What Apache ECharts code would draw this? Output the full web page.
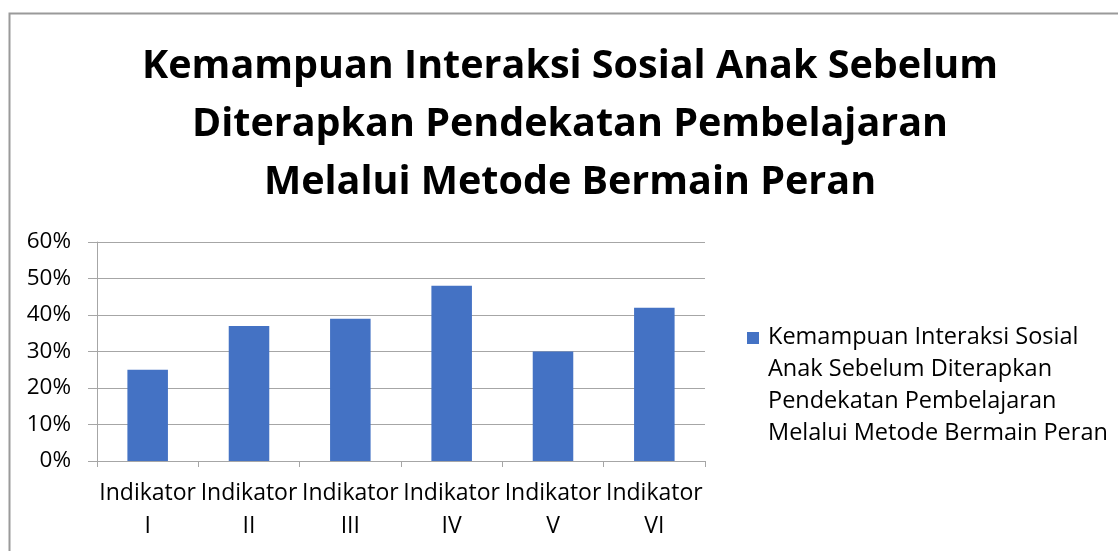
<!DOCTYPE html>
<html>
<head>
<meta charset="utf-8">
<script src="https://cdn.jsdelivr.net/npm/echarts@6/dist/echarts.min.js"></script>
<style>
html,body{margin:0;padding:0;background:#fff;}
#c{width:1118px;height:551px;}
</style>
</head>
<body>
<div id="c"></div>
<script>
const titleText = "Kemampuan Interaksi Sosial Anak Sebelum\nDiterapkan Pendekatan Pembelajaran\nMelalui Metode Bermain Peran";
const seriesName = "Kemampuan Interaksi Sosial Anak Sebelum Diterapkan Pendekatan Pembelajaran Melalui Metode Bermain Peran";
const legendLines = ["Kemampuan Interaksi Sosial", "Anak Sebelum Diterapkan", "Pendekatan Pembelajaran", "Melalui Metode Bermain Peran"];
const categories = ["Indikator\nI", "Indikator\nII", "Indikator\nIII", "Indikator\nIV", "Indikator\nV", "Indikator\nVI"];
const values = [25, 37, 39, 48, 30, 42];
const yTicks = [0, 10, 20, 30, 40, 50, 60];

const FONT = "Open Sans";
const chart = echarts.init(document.getElementById('c'), null, {renderer: 'canvas'});
chart.setOption({
  animation: false,
  backgroundColor: '#fff',
  textStyle: {fontFamily: FONT, color: '#000'},
  title: {
    text: titleText,
    left: 570,
    top: 38,
    textAlign: 'center',
    padding: 0,
    textStyle: {fontFamily: FONT, fontWeight: 'bold', fontSize: 39.5, lineHeight: 58, color: '#000'}
  },
  graphic: [{
    type: 'rect', left: 7, top: 11, silent: true,
    shape: {x: 0, y: 0, width: 1200, height: 700},
    style: {fill: 'none', stroke: '#9a9a9a', lineWidth: 2}
  }],
  legend: {
    left: 747, top: 321, padding: 0,
    orient: 'vertical',
    itemWidth: 16, itemHeight: 128,
    icon: 'path://M0,0h0.05v0.05h-0.05z M0,11h12v12h-12z M15.95,127.95h0.05v0.05h-0.05z',
    formatter: () => legendLines.join('\n'),
    textStyle: {fontFamily: FONT, fontSize: 23.5, lineHeight: 32, color: '#000'}
  },
  grid: {left: 97, right: 413, top: 242, bottom: 90, containLabel: false},
  xAxis: {
    type: 'category',
    data: categories,
    axisLine: {lineStyle: {color: '#a6a6a6', width: 1}},
    axisTick: {show: true, length: 6, lineStyle: {color: '#a6a6a6'}},
    axisLabel: {interval: 0, margin: 16, fontFamily: FONT, fontSize: 23, lineHeight: 33, color: '#000'}
  },
  yAxis: {
    type: 'value',
    min: 0, max: 60, interval: 10,
    axisLine: {show: true, lineStyle: {color: '#a6a6a6', width: 1}},
    axisTick: {show: true, length: 9, lineStyle: {color: '#a6a6a6'}},
    splitLine: {lineStyle: {color: '#a6a6a6', width: 1}},
    axisLabel: {margin: 26, fontFamily: FONT, fontSize: 22.5, color: '#000', formatter: v => v + '%'}
  },
  series: [{
    name: seriesName,
    type: 'bar',
    data: values,
    barWidth: '40%',
    itemStyle: {color: '#4472C4'}
  }]
});
</script>
</body>
</html>
